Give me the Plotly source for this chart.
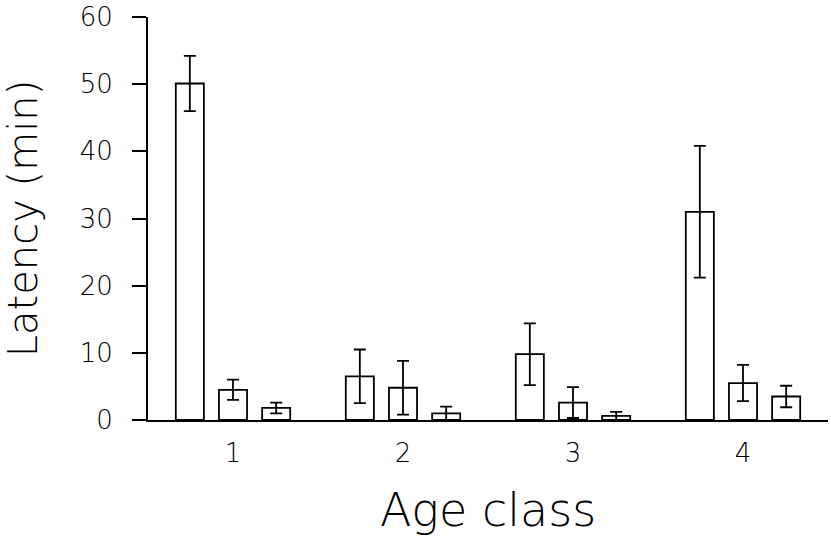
import plotly.graph_objects as go

age_classes = [1, 2, 3, 4]
tick_labels = ["1", "2", "3", "4"]

series_a = [50.1, 6.5, 9.8, 31.0]
series_a_err = [4.1, 4.0, 4.6, 9.8]
series_b = [4.5, 4.8, 2.6, 5.5]
series_b_err = [1.5, 4.0, 2.3, 2.7]
series_c = [1.8, 1.0, 0.6, 3.5]
series_c_err = [0.8, 1.0, 0.6, 1.6]

FONT = "DejaVu Sans"

fig = go.Figure()
for vals, errs in [(series_a, series_a_err), (series_b, series_b_err), (series_c, series_c_err)]:
    fig.add_trace(go.Bar(
        x=age_classes, y=vals,
        marker=dict(color="white", line=dict(color="black", width=1.8)),
        error_y=dict(type="data", array=errs, visible=True, color="black",
                     thickness=1.8, width=6),
        showlegend=False,
    ))

fig.update_layout(
    width=831, height=539,
    margin=dict(l=148, r=3, t=17, b=119),
    paper_bgcolor="white", plot_bgcolor="white",
    barmode="group", bargap=0.238, bargroupgap=0.35,
    font=dict(family=FONT, color="black"),
)
fig.update_xaxes(
    range=[0.5, 4.5], tickvals=age_classes, ticktext=tick_labels,
    showline=True, linecolor="black", linewidth=1.8,
    ticks="", showgrid=False, zeroline=False,
    tickfont=dict(size=26, family=FONT, weight=200, color="black"),
    ticklabelstandoff=9,
    title=dict(text="Age class", font=dict(size=46, family=FONT, weight=200, color="black"), standoff=27),
)
fig.update_yaxes(
    range=[0, 60], tickvals=[0, 10, 20, 30, 40, 50, 60],
    showline=True, linecolor="black", linewidth=1.8,
    ticks="outside", ticklen=14, tickwidth=1.8, tickcolor="black",
    showgrid=False, zeroline=False, automargin="left",
    tickfont=dict(size=26, family=FONT, weight=200, color="black"),
    ticklabelstandoff=14, ticklabeloverflow="allow",
    title=dict(text="Latency (min)", font=dict(size=40, family=FONT, weight=200, color="black"), standoff=36),
)

fig.write_html("out.html", config={"displayModeBar": False},
               post_script="document.body.style.margin='0';")
